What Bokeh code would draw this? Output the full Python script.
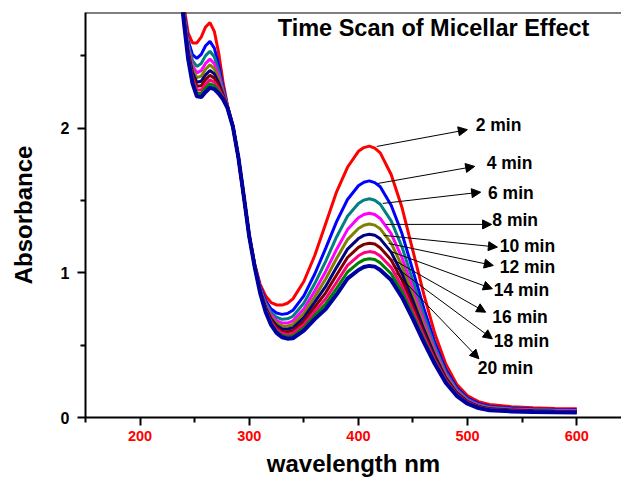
from bokeh.plotting import figure
from bokeh.models import (ColumnDataSource, Arrow, NormalHead, FixedTicker, Span,
                          Label, Range1d)
from bokeh.core.properties import value
from bokeh.embed import file_html
from bokeh.resources import INLINE

# ---------------- data ----------------
wavelength = [236, 240, 244, 248, 252, 256, 260, 264, 268, 272, 276, 280, 285, 290, 295,
              300, 305, 310, 315, 320, 325, 330, 335, 340, 350, 360, 370, 380, 390, 400,
              405, 410, 415, 420, 430, 440, 450, 460, 470, 480, 490, 500, 510, 520, 540, 560, 580, 600]

abs_2min = [3.10, 2.85, 2.66, 2.59, 2.59, 2.63, 2.70, 2.73, 2.67, 2.52, 2.32, 2.16, 2.02, 1.80, 1.53,
            1.26, 1.06, 0.92, 0.84, 0.795, 0.778, 0.777, 0.79, 0.82, 0.94, 1.12, 1.34, 1.56, 1.73, 1.84,
            1.866, 1.876, 1.862, 1.83, 1.68, 1.45, 1.15, 0.85, 0.58, 0.37, 0.23, 0.15, 0.11, 0.09, 0.075, 0.068, 0.063, 0.06]
abs_4min = [3.086, 2.818, 2.608, 2.509, 2.483, 2.510, 2.570, 2.600, 2.554, 2.439, 2.285, 2.154, 2.017, 1.80, 1.53,
            1.257, 1.054, 0.903, 0.808, 0.750, 0.722, 0.713, 0.719, 0.741, 0.841, 0.992, 1.169, 1.354, 1.507, 1.602,
            1.626, 1.636, 1.624, 1.595, 1.468, 1.270, 1.014, 0.754, 0.519, 0.332, 0.207, 0.134, 0.097, 0.078, 0.065, 0.059, 0.055, 0.053]
abs_6min = [3.078, 2.802, 2.581, 2.467, 2.427, 2.447, 2.502, 2.532, 2.494, 2.397, 2.267, 2.151, 2.016, 1.80, 1.53,
            1.256, 1.051, 0.894, 0.792, 0.727, 0.693, 0.679, 0.682, 0.700, 0.790, 0.926, 1.080, 1.248, 1.391, 1.479,
            1.503, 1.512, 1.502, 1.474, 1.359, 1.177, 0.943, 0.705, 0.488, 0.313, 0.195, 0.126, 0.090, 0.072, 0.060, 0.055, 0.051, 0.049]
abs_8min = [3.072, 2.788, 2.559, 2.433, 2.383, 2.398, 2.448, 2.478, 2.446, 2.363, 2.253, 2.149, 2.014, 1.80, 1.53,
            1.254, 1.049, 0.886, 0.778, 0.708, 0.670, 0.653, 0.653, 0.668, 0.750, 0.874, 1.010, 1.162, 1.299, 1.381,
            1.403, 1.412, 1.403, 1.376, 1.271, 1.103, 0.887, 0.665, 0.462, 0.297, 0.185, 0.119, 0.085, 0.068, 0.057, 0.051, 0.048, 0.046]
abs_10min = [3.068, 2.779, 2.543, 2.408, 2.350, 2.360, 2.408, 2.438, 2.410, 2.338, 2.242, 2.147, 2.014, 1.80, 1.53,
             1.254, 1.047, 0.881, 0.769, 0.694, 0.653, 0.633, 0.631, 0.643, 0.719, 0.834, 0.957, 1.099, 1.230, 1.307,
             1.329, 1.338, 1.330, 1.304, 1.206, 1.047, 0.845, 0.636, 0.444, 0.286, 0.178, 0.114, 0.081, 0.064, 0.054, 0.049, 0.045, 0.044]
abs_12min = [3.063, 2.769, 2.528, 2.384, 2.318, 2.325, 2.369, 2.399, 2.376, 2.314, 2.232, 2.145, 2.013, 1.80, 1.53,
             1.253, 1.045, 0.876, 0.759, 0.681, 0.636, 0.614, 0.610, 0.620, 0.690, 0.797, 0.906, 1.038, 1.164, 1.237,
             1.259, 1.267, 1.260, 1.235, 1.143, 0.994, 0.805, 0.607, 0.426, 0.274, 0.171, 0.110, 0.077, 0.061, 0.051, 0.046, 0.043, 0.042]
abs_14min = [3.060, 2.761, 2.514, 2.363, 2.290, 2.294, 2.336, 2.366, 2.346, 2.293, 2.223, 2.144, 2.012, 1.80, 1.53,
             1.252, 1.044, 0.871, 0.751, 0.669, 0.622, 0.597, 0.592, 0.600, 0.665, 0.764, 0.862, 0.985, 1.106, 1.176,
             1.197, 1.205, 1.199, 1.174, 1.089, 0.948, 0.769, 0.583, 0.410, 0.265, 0.165, 0.105, 0.074, 0.058, 0.048, 0.044, 0.041, 0.040]
abs_16min = [3.056, 2.753, 2.502, 2.344, 2.264, 2.265, 2.304, 2.334, 2.318, 2.274, 2.214, 2.142, 2.011, 1.80, 1.53,
             1.251, 1.042, 0.867, 0.743, 0.659, 0.608, 0.582, 0.574, 0.581, 0.641, 0.733, 0.821, 0.935, 1.052, 1.118,
             1.139, 1.147, 1.141, 1.117, 1.038, 0.904, 0.736, 0.560, 0.395, 0.256, 0.160, 0.102, 0.070, 0.055, 0.046, 0.042, 0.039, 0.038]
abs_18min = [3.053, 2.747, 2.491, 2.327, 2.242, 2.240, 2.277, 2.307, 2.294, 2.257, 2.207, 2.141, 2.011, 1.80, 1.53,
             1.251, 1.041, 0.864, 0.737, 0.649, 0.597, 0.568, 0.560, 0.564, 0.620, 0.706, 0.785, 0.893, 1.006, 1.069,
             1.090, 1.098, 1.092, 1.069, 0.994, 0.867, 0.708, 0.540, 0.383, 0.248, 0.155, 0.098, 0.068, 0.052, 0.044, 0.040, 0.038, 0.037]
abs_20min = [3.05, 2.74, 2.48, 2.31, 2.22, 2.215, 2.25, 2.28, 2.27, 2.24, 2.20, 2.14, 2.01, 1.80, 1.53,
             1.25, 1.04, 0.86, 0.73, 0.64, 0.585, 0.555, 0.545, 0.548, 0.60, 0.68, 0.75, 0.85, 0.96, 1.02,
             1.040, 1.048, 1.043, 1.02, 0.95, 0.83, 0.68, 0.52, 0.37, 0.24, 0.15, 0.095, 0.065, 0.05, 0.042, 0.038, 0.036, 0.035]

series = [abs_2min, abs_4min, abs_6min, abs_8min, abs_10min,
          abs_12min, abs_14min, abs_16min, abs_18min, abs_20min]
colors = ["#FF0000", "#0000FF", "#008080", "#FF00FF", "#808000",
          "#000080", "#800000", "#FF0080", "#008000", "#0000A0"]
widths = [3, 3, 3, 3, 3, 3, 3, 3, 3, 4]

# annotation labels (text, position) and arrow start/end (data units)
label_text = ["2 min", "4 min", "6 min", "8 min", "10 min",
              "12 min", "14 min", "16 min", "18 min", "20 min"]
label_x = [507.4, 517.5, 518.7, 522.7, 529.4, 529.4, 523.9, 522.7, 523.9, 509.3]
label_y = [2.02, 1.761, 1.551, 1.362, 1.183, 1.039, 0.883, 0.698, 0.528, 0.344]
arrow_x0 = [416.8, 417.7, 422.3, 425.0, 423.2, 427.7, 429.6, 431.4, 433.2, 435.1]
arrow_y0 = [1.874, 1.618, 1.480, 1.335, 1.259, 1.203, 1.148, 1.093, 1.044, 0.996]
arrow_x1 = [499.8, 506.5, 512.0, 522.0, 527.3, 523.6, 522.7, 516.6, 522.7, 510.4]
arrow_y1 = [1.99, 1.736, 1.558, 1.335, 1.178, 1.051, 0.890, 0.728, 0.544, 0.406]

x_ticks = [200, 300, 400, 500, 600]
x_minor = [150, 250, 350, 450, 550, 650]
y_ticks = [0, 1, 2]
y_minor = [0.5, 1.5, 2.5]

FONT = "Liberation Sans"

# ---------------- figure ----------------
p = figure(width=621, height=480, x_range=Range1d(150, 641), y_range=Range1d(0, 2.8),
           output_backend="svg", toolbar_location=None,
           min_border_left=85, min_border_right=0, min_border_top=12, min_border_bottom=63)
p.outline_line_color = None
p.xgrid.visible = False
p.ygrid.visible = False
p.background_fill_color = "white"
p.border_fill_color = "white"

for ys, c, w in zip(series, colors, widths):
    p.line(wavelength, ys, line_color=c, line_width=w)

# top frame line
p.add_layout(Span(location=2.8, dimension="width", line_color="black", line_width=2))

# arrows
asrc = ColumnDataSource(dict(x0=arrow_x0, y0=arrow_y0, x1=arrow_x1, y1=arrow_y1))
p.add_layout(Arrow(x_start="x0", y_start="y0", x_end="x1", y_end="y1", source=asrc,
                   line_color="black", line_width=1,
                   end=NormalHead(size=9, fill_color="black", line_color="black", line_width=1)))

lsrc = ColumnDataSource(dict(x=label_x, y=label_y, t=label_text))
p.text(x="x", y="y", text="t", source=lsrc, text_font=value(FONT), text_font_style="bold",
       text_font_size="17.5px", text_baseline="middle", text_align="left", text_color="black")

p.add_layout(Label(x=326.1, y=2.69, text="Time Scan of Micellar Effect", text_font=FONT,
                   text_font_style="bold", text_font_size="23.5px", text_baseline="middle",
                   text_color="black"))

# axes
for ax in (p.xaxis[0], p.yaxis[0]):
    ax.axis_line_width = 2
    ax.axis_line_color = "black"
    ax.major_tick_line_width = 2
    ax.minor_tick_line_width = 2
    ax.major_tick_out = 8
    ax.major_tick_in = 0
    ax.minor_tick_out = 5
    ax.minor_tick_in = 0
    ax.major_label_text_font = FONT
    ax.major_label_text_font_style = "bold"
    ax.axis_label_text_font = FONT
    ax.axis_label_text_font_style = "bold"
    ax.axis_label_text_font_size = "24px"
    ax.axis_label_text_color = "black"

p.xaxis.ticker = FixedTicker(ticks=x_ticks, minor_ticks=x_minor)
p.yaxis.ticker = FixedTicker(ticks=y_ticks, minor_ticks=y_minor)
p.xaxis.major_label_text_color = "#FF0000"
p.xaxis.major_label_text_font_size = "14.5px"
p.yaxis.major_label_text_color = "black"
p.yaxis.major_label_text_font_size = "16px"
p.yaxis.major_label_standoff = 8
p.xaxis.major_label_standoff = 5
p.xaxis.axis_label = "wavelength nm"
p.yaxis.axis_label = "Absorbance"
p.xaxis.axis_label_standoff = 6
p.yaxis.axis_label_standoff = 21

open("out.html", "w").write(file_html(p, INLINE))
